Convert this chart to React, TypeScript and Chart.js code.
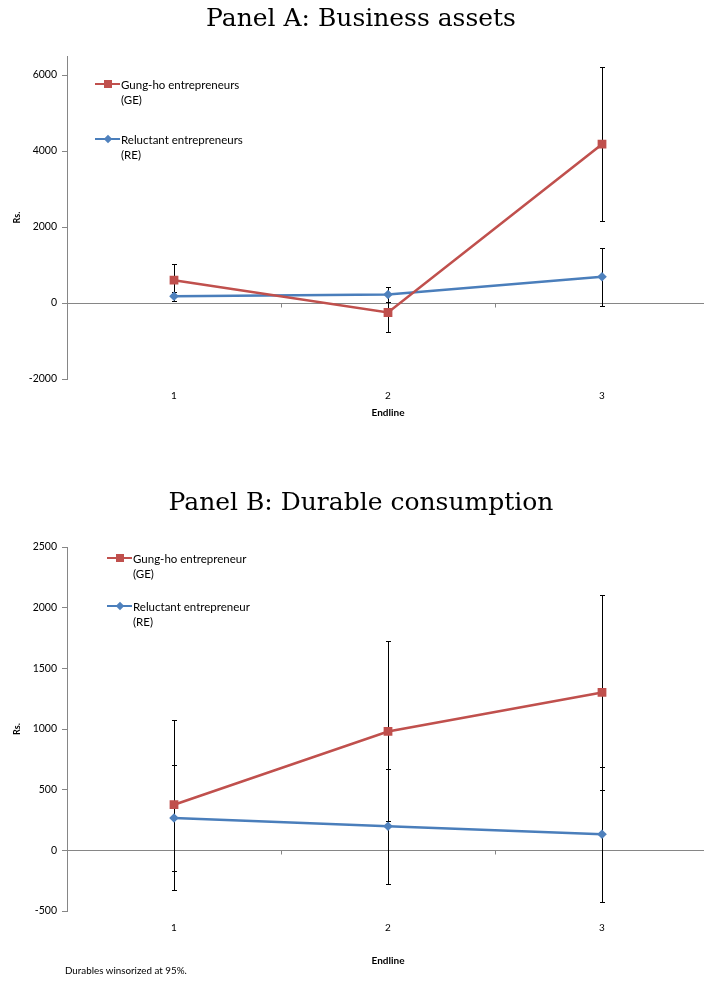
import React, { useEffect, useRef } from 'react';
import { Chart, registerables } from 'chart.js';

Chart.register(...registerables);

// ---------- data ----------
const categories = ['1', '2', '3'];

// Panel A: Business assets
const assetsGE = [600, -250, 4180];
const assetsGEErr = [435, 515, 2020];
const assetsRE = [176, 222, 690];
const assetsREErr = [125, 208, 757];
const assetsTicks = [-2000, 0, 2000, 4000, 6000];
const assetsLegend = [
  ['Gung-ho entrepreneurs', '(GE)'],
  ['Reluctant entrepreneurs', '(RE)'],
];

// Panel B: Durable consumption
const durGE = [376, 980, 1301];
const durGEErr = [700, 742, 800];
const durRE = [266, 198, 132];
const durREErr = [435, 472, 558];
const durTicks = [-500, 0, 500, 1000, 1500, 2000, 2500];
const durLegend = [
  ['Gung-ho entrepreneur', '(GE)'],
  ['Reluctant entrepreneur', '(RE)'],
];

const titleA = 'Panel A: Business assets';
const titleB = 'Panel B: Durable consumption';
const xTitle = 'Endline';
const yTitle = 'Rs.';
const footnote = 'Durables winsorized at 95%.';

// ---------- styles ----------
const RED = '#C0504D';
const BLUE = '#4A7EBB';
const AXIS = '#868686';
const FONT = 'Lato';

const errorBarPlugin = {
  id: 'errorBars',
  beforeDatasetsDraw(chart: any) {
    const ctx = chart.ctx;
    const ys = chart.scales.y;
    ctx.save();
    ctx.strokeStyle = '#000';
    ctx.lineWidth = 1;
    chart.data.datasets.forEach((ds: any, i: number) => {
      const meta = chart.getDatasetMeta(i);
      (ds.errors || []).forEach((e: number, j: number) => {
        const v = ds.data[j];
        const pt = meta.data[j];
        if (!pt) return;
        const x = Math.round(pt.x) + 0.5;
        const y1 = Math.round(ys.getPixelForValue(v + e)) + 0.5;
        const y2 = Math.round(ys.getPixelForValue(v - e)) + 0.5;
        ctx.beginPath();
        ctx.moveTo(x, y1);
        ctx.lineTo(x, y2);
        ctx.moveTo(x - 2.5, y1);
        ctx.lineTo(x + 2.5, y1);
        ctx.moveTo(x - 2.5, y2);
        ctx.lineTo(x + 2.5, y2);
        ctx.stroke();
      });
    });
    ctx.restore();
  },
};

const catTickPlugin = {
  id: 'catTicks',
  beforeDatasetsDraw(chart: any) {
    const ctx = chart.ctx;
    const xs = chart.scales.x;
    const ys = chart.scales.y;
    const y0 = Math.round(ys.getPixelForValue(0)) + 0.5;
    ctx.save();
    ctx.strokeStyle = AXIS;
    ctx.lineWidth = 1;
    for (let i = 0; i <= chart.data.labels.length; i++) {
      const px = Math.round(xs.getPixelForValue(i - 0.5)) + 0.5;
      ctx.beginPath();
      ctx.moveTo(px, y0);
      ctx.lineTo(px, y0 + 4);
      ctx.stroke();
    }
    ctx.restore();
  },
};

type PanelProps = {
  ge: number[];
  geErr: number[];
  re: number[];
  reErr: number[];
  ticks: number[];
  max: number;
  height: number;
  padTop: number;
  xAxisHeight: number;
  xTitlePad: number;
  labels: string[][];
};

function PanelChart(p: PanelProps) {
  const ref = useRef<HTMLCanvasElement>(null);
  useEffect(() => {
    if (!ref.current) return;
    const chart = new Chart(ref.current, {
      type: 'line',
      data: {
        labels: categories,
        datasets: [
          {
            label: p.labels[0].join(' '),
            data: p.ge,
            errors: p.geErr,
            borderColor: RED,
            backgroundColor: RED,
            borderWidth: 2.6,
            pointStyle: 'rect',
            pointRadius: 6.2,
            pointBorderWidth: 0,
            pointBackgroundColor: RED,
            tension: 0,
          } as any,
          {
            label: p.labels[1].join(' '),
            data: p.re,
            errors: p.reErr,
            borderColor: BLUE,
            backgroundColor: BLUE,
            borderWidth: 2.6,
            pointStyle: 'rectRot',
            pointRadius: 4.8,
            pointBorderWidth: 0,
            pointBackgroundColor: '#4F81BD',
            tension: 0,
          } as any,
        ],
      },
      options: {
        animation: false,
        responsive: false,
        events: [],
        layout: { padding: { left: 0, top: p.padTop, right: 11, bottom: 0 } },
        plugins: {
          legend: { display: false },
          tooltip: { enabled: false },
          title: { display: false },
        },
        scales: {
          x: {
            type: 'category',
            offset: true,
            grid: { display: false, drawTicks: false },
            border: { display: false },
            ticks: { font: { family: FONT, size: 10 }, color: '#000', padding: 11 },
            title: {
              display: true,
              text: xTitle,
              font: { family: FONT, size: 10, weight: 'bold' },
              color: '#000',
              padding: { top: 0, bottom: p.xTitlePad },
            },
            afterFit: (s: any) => {
              s.height = p.xAxisHeight;
            },
          },
          y: {
            type: 'linear',
            min: p.ticks[0],
            max: p.max,
            afterBuildTicks: (s: any) => {
              s.ticks = p.ticks.map((v) => ({ value: v }));
            },
            grid: {
              color: (c: any) => (c.tick && c.tick.value === 0 ? AXIS : 'rgba(0,0,0,0)'),
              tickColor: AXIS,
              tickLength: 5,
              drawTicks: true,
            },
            border: { display: true, color: AXIS, width: 1 },
            ticks: {
              font: { family: FONT, size: 10.5 },
              color: '#000',
              padding: 5,
              callback: (v: any) => String(v),
            },
            title: {
              display: true,
              text: yTitle,
              font: { family: FONT, size: 9, weight: 'bold' },
              color: '#000',
              padding: { top: 12, bottom: 0 },
            },
            afterFit: (s: any) => {
              s.width = 67;
            },
          },
        },
      } as any,
      plugins: [errorBarPlugin, catTickPlugin],
    });
    return () => chart.destroy();
  }, []);
  return (
    <canvas
      ref={ref}
      width={720}
      height={p.height}
      style={{ display: 'block', width: 720, height: p.height }}
    />
  );
}

type LegendItem = { lines: string[]; color: string; marker: 'square' | 'diamond'; y: number };

function Legend({ items, lineLeft, textLeft }: { items: LegendItem[]; lineLeft: number; textLeft: number }) {
  return (
    <>
      {items.map((it, i) => (
        <React.Fragment key={i}>
          <div
            style={{
              position: 'absolute',
              left: lineLeft,
              top: it.y - 1.25,
              width: 25,
              height: 2.5,
              background: it.color,
            }}
          />
          {it.marker === 'square' ? (
            <div
              style={{
                position: 'absolute',
                left: lineLeft + 12.5 - 4,
                top: it.y - 4,
                width: 8,
                height: 8,
                background: it.color,
              }}
            />
          ) : (
            <div
              style={{
                position: 'absolute',
                left: lineLeft + 12.5 - 3,
                top: it.y - 3,
                width: 6,
                height: 6,
                background: '#4F81BD',
                transform: 'rotate(45deg)',
              }}
            />
          )}
          <div
            style={{
              position: 'absolute',
              left: textLeft,
              top: it.y - 7.5,
              fontFamily: FONT,
              fontSize: 11.5,
              lineHeight: '15px',
              color: '#000',
              whiteSpace: 'nowrap',
            }}
          >
            {it.lines.map((l, k) => (
              <div key={k}>{l}</div>
            ))}
          </div>
        </React.Fragment>
      ))}
    </>
  );
}

const titleStyle: React.CSSProperties = {
  position: 'absolute',
  left: 0,
  width: 722,
  textAlign: 'center',
  fontFamily: '"DejaVu Serif", serif',
  fontSize: 25,
  lineHeight: '30px',
  color: '#000',
  whiteSpace: 'nowrap',
};

export default function App() {
  return (
    <div
      style={{
        position: 'absolute',
        left: 0,
        top: 0,
        width: 704,
        height: 981,
        overflow: 'hidden',
        background: '#fff',
      }}
    >
      <div style={{ position: 'absolute', left: 0, top: 0 }}>
        <PanelChart
          ge={assetsGE}
          geErr={assetsGEErr}
          re={assetsRE}
          reErr={assetsREErr}
          ticks={assetsTicks}
          max={6500}
          height={440}
          padTop={56}
          xAxisHeight={61}
          xTitlePad={21}
          labels={assetsLegend}
        />
      </div>
      <div style={{ position: 'absolute', left: 0, top: 440 }}>
        <PanelChart
          ge={durGE}
          geErr={durGEErr}
          re={durRE}
          reErr={durREErr}
          ticks={durTicks}
          max={2500}
          height={541}
          padTop={107}
          xAxisHeight={70}
          xTitlePad={14}
          labels={durLegend}
        />
      </div>
      <div style={{ ...titleStyle, top: 3 }}>{titleA}</div>
      <div style={{ ...titleStyle, top: 487 }}>{titleB}</div>
      <Legend
        lineLeft={95}
        textLeft={121}
        items={[
          { lines: assetsLegend[0], color: RED, marker: 'square', y: 84 },
          { lines: assetsLegend[1], color: BLUE, marker: 'diamond', y: 139 },
        ]}
      />
      <Legend
        lineLeft={107}
        textLeft={133}
        items={[
          { lines: durLegend[0], color: RED, marker: 'square', y: 558 },
          { lines: durLegend[1], color: BLUE, marker: 'diamond', y: 606 },
        ]}
      />
      <div
        style={{
          position: 'absolute',
          left: 65,
          top: 964,
          fontFamily: FONT,
          fontSize: 9.8,
          lineHeight: '12px',
          color: '#000',
          whiteSpace: 'nowrap',
        }}
      >
        {footnote}
      </div>
    </div>
  );
}
